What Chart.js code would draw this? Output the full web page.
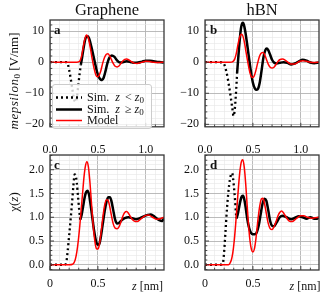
<!DOCTYPE html>
<html><head><meta charset="utf-8">
<script src="https://cdn.jsdelivr.net/npm/chart.js@4"></script>
<style>
html,body{margin:0;padding:0;background:#fff;}
#wrap{position:relative;width:325px;height:293px;overflow:hidden;font-family:"Liberation Serif",serif;color:#111;background:#fff;}
canvas{position:absolute;}
.t{position:absolute;white-space:nowrap;line-height:1;}
.sub{font-size:9px;position:relative;top:2px;font-style:normal;}
.lg{position:absolute;left:0;height:13px;width:98px;}
.lg svg{position:absolute;left:2px;top:0;}
.lg .lt{position:absolute;left:34px;top:0;font-size:12px;line-height:13px;white-space:nowrap;}
.lg .lt i{display:inline-block;}
</style></head><body>
<div id="wrap">
<canvas id="ca" width="170" height="140" style="left:0;top:0"></canvas>
<canvas id="cb" width="165" height="140" style="left:160px;top:0"></canvas>
<canvas id="cc" width="170" height="153" style="left:0;top:140px"></canvas>
<canvas id="cd" width="165" height="153" style="left:160px;top:140px"></canvas>

<div class="t" style="left:107px;top:2px;transform:translateX(-50%);font-size:16.5px;">Graphene</div>
<div class="t" style="left:262px;top:2px;transform:translateX(-50%);font-size:16.5px;">hBN</div>

<div class="t" style="left:13px;top:81px;transform:translate(-50%,-50%) rotate(-90deg);font-size:13px;"><i style="letter-spacing:0.5px">mepsilon</i><span class="sub">0</span> [V/nm]</div>
<div class="t" style="left:13px;top:202px;transform:translate(-50%,-50%) rotate(-90deg);font-size:13px;">χ(<i>z</i>)</div>

<div class="t" style="left:54px;top:22.5px;font-size:13px;font-weight:bold;">a</div>
<div class="t" style="left:210px;top:22.5px;font-size:13px;font-weight:bold;">b</div>
<div class="t" style="left:54px;top:157.5px;font-size:13px;font-weight:bold;">c</div>
<div class="t" style="left:210px;top:158px;font-size:13px;font-weight:bold;">d</div>

<div class="t" style="left:147.5px;top:280px;transform:translateX(-50%);font-size:12px;"><i>z</i> [nm]</div>
<div class="t" style="left:305px;top:280px;transform:translateX(-50%);font-size:12px;"><i>z</i> [nm]</div>

<div id="legend" style="position:absolute;left:52px;top:84px;width:98px;height:43px;border:1px solid #cccccc;border-radius:3px;background:rgba(255,255,255,0.8);">
  <div class="lg" style="top:6px;"><svg width="28" height="13"><line x1="1" y1="6.5" x2="27" y2="6.5" stroke="#000" stroke-width="2.3" stroke-dasharray="2,3"/></svg><span class="lt">Sim.<i style="margin-left:6px">z</i><span style="margin-left:5px">&lt;</span><i style="margin-left:3px">z</i><span class="sub">0</span></span></div>
  <div class="lg" style="top:17.5px;"><svg width="28" height="13"><line x1="1" y1="6.5" x2="27" y2="6.5" stroke="#000" stroke-width="2.5"/></svg><span class="lt">Sim.<i style="margin-left:6px">z</i><span style="margin-left:5px">≥</span><i style="margin-left:3px">z</i><span class="sub">0</span></span></div>
  <div class="lg" style="top:29px;"><svg width="28" height="13"><line x1="1" y1="6.5" x2="27" y2="6.5" stroke="#ff0000" stroke-width="1.5"/></svg><span class="lt">Model</span></div>
</div>
</div>

<script>
// ---------- data ----------
// x-axis tick labels
const xMajorVals = [0, 0.5, 1.0];
const xTopLabels = ['0.0', '0.5', '1.0'];
const xBottomLabels = ['0', '0.5', ''];

// Panel a: Graphene field
const zA_dot = [0, 0.05, 0.10, 0.15, 0.177, 0.20, 0.22, 0.24, 0.255, 0.267, 0.28, 0.295, 0.31, 0.322];
const eA_dot = [0, 0, 0, 0, 0, -2.5, -6.0, -10.0, -12.3, -12.8, -11.5, -7.5, -3.5, -0.8];
const zA_sim = [0.322, 0.335, 0.35, 0.365, 0.38, 0.395, 0.41, 0.43, 0.45, 0.47, 0.49, 0.51, 0.53, 0.545, 0.56, 0.58, 0.60, 0.62, 0.645, 0.67, 0.70, 0.73, 0.76, 0.80, 0.84, 0.88, 0.92, 0.96, 1.0, 1.04, 1.08, 1.12, 1.16, 1.19];
const eA_sim = [-0.8, 1.5, 4.5, 7.0, 8.3, 8.4, 7.5, 5.2, 2.5, -0.3, -3.0, -4.8, -5.6, -5.7, -5.0, -2.8, -0.2, 1.5, 2.2, 1.8, 0.6, -0.1, 0.0, 0.3, 0.1, -0.2, -0.1, 0.2, 0.5, 0.5, 0.3, 0.1, 0.0, -0.1];
const zA_mod = [0, 0.1, 0.2, 0.28, 0.31, 0.33, 0.345, 0.36, 0.375, 0.385, 0.40, 0.42, 0.44, 0.46, 0.48, 0.495, 0.51, 0.53, 0.55, 0.57, 0.59, 0.605, 0.62, 0.64, 0.66, 0.68, 0.70, 0.72, 0.74, 0.76, 0.78, 0.80, 0.82, 0.85, 0.88, 0.91, 0.94, 0.97, 1.0, 1.04, 1.08, 1.12, 1.19];
const eA_mod = [0, 0, 0, 0, 0.3, 2.0, 4.5, 7.0, 8.5, 8.8, 7.8, 4.8, 1.2, -2.0, -4.2, -4.7, -4.3, -2.8, -0.3, 1.6, 2.6, 2.7, 2.2, 0.9, -0.4, -1.3, -1.5, -1.2, -0.4, 0.4, 0.9, 1.0, 0.8, 0.2, -0.3, -0.4, -0.2, 0.1, 0.3, 0.2, 0.0, -0.1, 0.0];

// Panel b: hBN field
const zB_dot = [0, 0.05, 0.1, 0.15, 0.19, 0.21, 0.23, 0.25, 0.27, 0.285, 0.298, 0.31, 0.32, 0.33, 0.335];
const eB_dot = [0, 0, 0, 0, -0.2, -1.5, -4.0, -7.5, -11.5, -14.8, -17.3, -15.5, -11.5, -6.5, -3.5];
const zB_sim = [0.335, 0.345, 0.355, 0.365, 0.375, 0.385, 0.395, 0.405, 0.42, 0.44, 0.46, 0.48, 0.50, 0.52, 0.54, 0.555, 0.57, 0.59, 0.61, 0.63, 0.645, 0.66, 0.68, 0.70, 0.72, 0.75, 0.78, 0.82, 0.86, 0.9, 0.94, 0.98, 1.02, 1.06, 1.1, 1.14, 1.19];
const eB_sim = [-3.5, 0.5, 4.5, 8.0, 10.8, 12.3, 12.7, 12.2, 10.0, 5.8, 1.2, -3.2, -6.6, -8.4, -8.9, -8.5, -6.8, -2.8, 1.5, 3.9, 4.4, 3.9, 2.4, 0.8, -0.1, -0.4, -0.2, 0.0, -0.2, -0.7, -0.4, 0.3, 0.8, 0.5, -0.1, -0.3, -0.1];
const zB_mod = [0, 0.1, 0.2, 0.26, 0.29, 0.31, 0.325, 0.34, 0.355, 0.37, 0.385, 0.40, 0.415, 0.43, 0.45, 0.47, 0.485, 0.50, 0.515, 0.53, 0.55, 0.57, 0.59, 0.605, 0.62, 0.64, 0.66, 0.68, 0.70, 0.72, 0.74, 0.76, 0.78, 0.81, 0.84, 0.87, 0.9, 0.93, 0.96, 0.99, 1.02, 1.06, 1.1, 1.14, 1.19];
const eB_mod = [0, 0, 0, 0, 0.2, 1.0, 2.6, 5.0, 7.3, 8.7, 9.0, 8.0, 5.8, 3.0, -0.5, -3.5, -4.7, -4.9, -4.3, -2.8, -0.2, 2.0, 3.0, 3.1, 2.6, 1.0, -0.6, -1.6, -1.9, -1.6, -0.8, 0.2, 0.8, 1.0, 0.6, -0.1, -0.6, -0.6, -0.2, 0.3, 0.5, 0.3, 0.0, -0.1, 0.0];

// Panel c: Graphene chi
const zC_dot = [0, 0.05, 0.10, 0.15, 0.17, 0.185, 0.20, 0.215, 0.23, 0.245, 0.257, 0.268, 0.28, 0.292, 0.305, 0.316];
const cC_dot = [0, 0, 0, 0, 0.05, 0.3, 0.62, 0.95, 1.3, 1.68, 1.9, 1.88, 1.72, 1.45, 1.15, 0.95];
const zC_sim = [0.316, 0.33, 0.345, 0.36, 0.375, 0.39, 0.405, 0.42, 0.44, 0.46, 0.48, 0.50, 0.515, 0.53, 0.55, 0.57, 0.59, 0.61, 0.625, 0.64, 0.66, 0.68, 0.70, 0.72, 0.75, 0.78, 0.82, 0.86, 0.9, 0.94, 0.98, 1.02, 1.05, 1.08, 1.11, 1.14, 1.17, 1.19];
const cC_sim = [0.95, 1.05, 1.22, 1.4, 1.52, 1.56, 1.5, 1.32, 1.02, 0.72, 0.5, 0.42, 0.44, 0.58, 0.85, 1.12, 1.33, 1.42, 1.42, 1.35, 1.15, 0.95, 0.87, 0.88, 0.94, 0.98, 1.0, 0.98, 0.96, 0.98, 1.02, 1.05, 1.06, 1.03, 0.98, 0.94, 0.92, 0.98];
const zC_mod = [0, 0.1, 0.2, 0.235, 0.25, 0.265, 0.28, 0.295, 0.31, 0.325, 0.34, 0.355, 0.37, 0.385, 0.40, 0.415, 0.43, 0.45, 0.47, 0.485, 0.50, 0.515, 0.53, 0.55, 0.57, 0.59, 0.605, 0.62, 0.64, 0.66, 0.68, 0.70, 0.72, 0.74, 0.76, 0.78, 0.80, 0.82, 0.85, 0.88, 0.91, 0.94, 0.97, 1.0, 1.03, 1.07, 1.11, 1.15, 1.19];
const cC_mod = [0, 0, 0, 0.01, 0.04, 0.12, 0.27, 0.5, 0.8, 1.15, 1.5, 1.85, 2.08, 2.17, 2.07, 1.78, 1.38, 0.85, 0.47, 0.34, 0.33, 0.42, 0.63, 0.97, 1.25, 1.37, 1.36, 1.26, 1.05, 0.86, 0.77, 0.76, 0.8, 0.9, 1.02, 1.1, 1.12, 1.08, 0.98, 0.92, 0.91, 0.95, 1.0, 1.04, 1.05, 1.0, 0.96, 0.97, 1.0];

// Panel d: hBN chi
const zD_dot = [0, 0.05, 0.1, 0.15, 0.185, 0.196, 0.213, 0.23, 0.245, 0.259, 0.272, 0.283, 0.293, 0.303, 0.313, 0.32, 0.327];
const cD_dot = [0, 0, 0, 0, 0.02, 0.18, 0.67, 1.2, 1.55, 1.78, 1.9, 1.93, 1.82, 1.62, 1.38, 1.16, 0.98];
const zD_sim = [0.327, 0.34, 0.355, 0.37, 0.385, 0.397, 0.41, 0.425, 0.44, 0.46, 0.48, 0.50, 0.52, 0.54, 0.56, 0.58, 0.60, 0.62, 0.64, 0.66, 0.68, 0.70, 0.72, 0.75, 0.78, 0.81, 0.85, 0.9, 0.94, 0.98, 1.02, 1.06, 1.1, 1.14, 1.17, 1.19];
const cD_sim = [0.97, 1.05, 1.2, 1.35, 1.44, 1.45, 1.38, 1.2, 0.98, 0.78, 0.67, 0.64, 0.64, 0.68, 0.82, 1.05, 1.28, 1.39, 1.35, 1.15, 0.92, 0.82, 0.81, 0.9, 1.0, 1.03, 1.0, 0.96, 0.99, 1.02, 1.0, 0.97, 1.0, 0.97, 0.97, 1.0];
const zD_mod = [0, 0.1, 0.2, 0.245, 0.26, 0.275, 0.29, 0.305, 0.32, 0.335, 0.35, 0.365, 0.38, 0.395, 0.41, 0.425, 0.44, 0.455, 0.47, 0.485, 0.50, 0.515, 0.53, 0.55, 0.57, 0.59, 0.605, 0.62, 0.64, 0.66, 0.68, 0.70, 0.72, 0.74, 0.76, 0.78, 0.80, 0.82, 0.85, 0.88, 0.91, 0.94, 0.97, 1.0, 1.03, 1.07, 1.11, 1.15, 1.19];
const cD_mod = [0, 0, 0, 0.0, 0.03, 0.1, 0.25, 0.5, 0.85, 1.25, 1.65, 1.98, 2.17, 2.21, 2.05, 1.7, 1.25, 0.82, 0.5, 0.32, 0.27, 0.33, 0.52, 0.9, 1.22, 1.39, 1.4, 1.3, 1.08, 0.87, 0.76, 0.74, 0.8, 0.9, 1.02, 1.1, 1.13, 1.09, 0.99, 0.92, 0.91, 0.95, 1.0, 1.03, 1.03, 1.0, 0.98, 0.99, 1.0];

// ---------- helpers ----------
const FONT = { family: '"Liberation Serif", serif', size: 12 };
const TXT = '#111';
function near(v, step) { return Math.abs(v / step - Math.round(v / step)) < 1e-6; }
function zip(xs, ys) { return xs.map((x, i) => ({ x: x, y: ys[i] })); }
function minus(s) { return String(s).replace('-', '\u2212'); }

const frameTicks = {
  id: 'frameTicks',
  afterDatasetsDraw(chart, args, o) {
    const { ctx, chartArea: a, scales } = chart;
    ctx.save();
    ctx.strokeStyle = '#333';
    ctx.lineWidth = 0.9;
    ctx.beginPath();
    scales.x.ticks.forEach(t => {
      const p = scales.x.getPixelForValue(t.value);
      const L = near(t.value, 0.5) ? 4 : 2.3;
      ctx.moveTo(p, a.bottom); ctx.lineTo(p, a.bottom - L);
    });
    scales.y.ticks.forEach(t => {
      const p = scales.y.getPixelForValue(t.value);
      const L = near(t.value, o.yMajor) ? 4 : 2.3;
      ctx.moveTo(a.left, p); ctx.lineTo(a.left + L, p);
    });
    ctx.stroke();
    ctx.lineWidth = 1.3;
    ctx.strokeStyle = '#3a3a3a';
    ctx.strokeRect(a.left, a.top, a.right - a.left, a.bottom - a.top);
    ctx.restore();
  }
};

function ds(xs, ys, kind) {
  const base = { data: zip(xs, ys), pointRadius: 0, fill: false, clip: 0, cubicInterpolationMode: 'monotone' };
  if (kind === 'dot') return Object.assign(base, { borderColor: '#000', borderWidth: 2.3, borderDash: [2, 3], order: 2 });
  if (kind === 'sim') return Object.assign(base, { borderColor: '#000', borderWidth: 2.5, order: 1 });
  return Object.assign(base, { borderColor: '#ff0000', borderWidth: 1.5, order: 0 });
}

function panel(id, c) {
  const scales = {
    x: {
      type: 'linear', position: 'bottom', min: 0, max: 1.19,
      afterFit: s => { s.height = c.xH; },
      border: { display: false },
      grid: { drawTicks: false, color: k => near(k.tick.value, 0.5) ? '#b3b3b3' : '#e6e6e6', lineWidth: k => near(k.tick.value, 0.5) ? 0.9 : 0.6 },
      ticks: {
        stepSize: 0.1, autoSkip: false, maxRotation: 0, includeBounds: false,
        display: !!c.bottomLabels, padding: 7, font: FONT, color: TXT,
        callback: v => { const i = xMajorVals.findIndex(m => Math.abs(m - v) < 1e-6); return (i >= 0 && c.bottomLabels) ? c.bottomLabels[i] : ''; }
      }
    },
    y: {
      type: 'linear', min: c.yMin, max: c.yMax,
      afterFit: s => { s.width = c.yW; },
      border: { display: false },
      grid: { drawTicks: false, color: k => near(k.tick.value, c.yMajor) ? '#b3b3b3' : '#e6e6e6', lineWidth: k => near(k.tick.value, c.yMajor) ? 0.9 : 0.6 },
      ticks: {
        stepSize: c.yMinor, autoSkip: false, includeBounds: false, padding: 6, font: FONT, color: TXT,
        callback: v => near(v, c.yMajor) ? minus(c.yFmt(v)) : ''
      }
    }
  };
  if (c.topLabels) {
    scales.x2 = {
      type: 'linear', position: 'top', min: 0, max: 1.19,
      afterFit: s => { s.height = c.topH; },
      border: { display: false },
      grid: { display: false, drawTicks: false },
      ticks: {
        stepSize: 0.5, autoSkip: false, maxRotation: 0, includeBounds: false, padding: -2, font: FONT, color: TXT,
        callback: v => { const i = xMajorVals.findIndex(m => Math.abs(m - v) < 1e-6); return i >= 0 ? c.topLabels[i] : ''; }
      }
    };
  }
  return new Chart(document.getElementById(id), {
    type: 'line',
    data: { datasets: c.datasets },
    options: {
      responsive: false, animation: false, events: [],
      layout: { padding: c.padding },
      plugins: { legend: { display: false }, tooltip: { enabled: false }, frameTicks: { yMajor: c.yMajor } },
      scales: scales
    },
    plugins: [frameTicks]
  });
}

const eFmt = v => Math.round(v).toString();
const cFmt = v => v.toFixed(1);

panel('ca', { yMin: -20.8, yMax: 13.6, yMajor: 10, yMinor: 2, yFmt: eFmt, yW: 50, xH: 8, padding: { top: 20, right: 6 },
  datasets: [ds(zA_mod, eA_mod, 'mod'), ds(zA_sim, eA_sim, 'sim'), ds(zA_dot, eA_dot, 'dot')] });
panel('cb', { yMin: -20.8, yMax: 13.6, yMajor: 10, yMinor: 2, yFmt: eFmt, yW: 45, xH: 8, padding: { top: 20, right: 6 },
  datasets: [ds(zB_mod, eB_mod, 'mod'), ds(zB_sim, eB_sim, 'sim'), ds(zB_dot, eB_dot, 'dot')] });
panel('cc', { yMin: -0.11, yMax: 2.31, yMajor: 0.5, yMinor: 0.1, yFmt: cFmt, yW: 50, xH: 23, topH: 15, padding: { right: 6 },
  bottomLabels: xBottomLabels, topLabels: xTopLabels,
  datasets: [ds(zC_mod, cC_mod, 'mod'), ds(zC_sim, cC_sim, 'sim'), ds(zC_dot, cC_dot, 'dot')] });
panel('cd', { yMin: -0.11, yMax: 2.31, yMajor: 0.5, yMinor: 0.1, yFmt: cFmt, yW: 45, xH: 23, topH: 15, padding: { right: 6 },
  bottomLabels: xBottomLabels, topLabels: xTopLabels,
  datasets: [ds(zD_mod, cD_mod, 'mod'), ds(zD_sim, cD_sim, 'sim'), ds(zD_dot, cD_dot, 'dot')] });
</script>
</body></html>
